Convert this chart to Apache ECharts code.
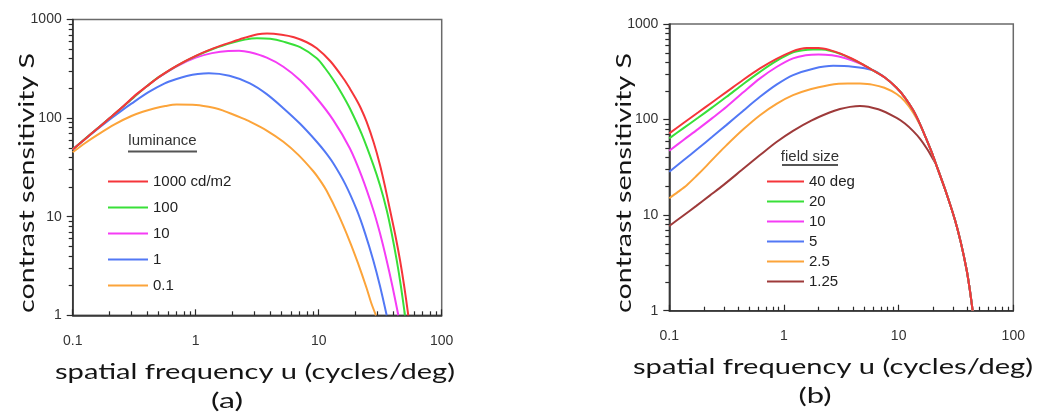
<!DOCTYPE html>
<html><head><meta charset="utf-8">
<script src="https://cdn.jsdelivr.net/npm/echarts@6/dist/echarts.min.js"></script>
<style>html,body{margin:0;padding:0;background:#fff}#c{width:1041px;height:413px}</style>
</head><body><div id="c"></div>
<script>
// ---------- data ----------
const xTickLabels = ['0.1', '1', '10', '100'];
const yTickLabels = ['1', '10', '100', '1000'];

// (a) luminance
const lumNames = ['1000 cd/m2', '100', '10', '1', '0.1'];
const lumU_1000 = [0.1,0.125,0.16,0.2,0.25,0.32,0.4,0.5,0.63,0.8,1,1.25,1.6,2,2.5,3.2,3.8,5,6.3,8,9.64,12.5,16,17.9,20,22,24.5,28,31.5,34.5,38,41.9,45.8,49.6,53.5];
const lumS_1000 = [48,60.8,78.9,100,127,169,210,260,314,372,428,484,543,596,653,708,720,701,661,588,510,375,249,200,158,126,92,56.5,33.5,20.6,11.7,6.57,3.64,1.96,1];
const lumU_100 = [0.1,0.141,0.2,0.2515,0.316,0.398,0.5,0.708,1,1.413,2,2.51,3.15,4.03,5.16,7.06,9.64,11.2,13.1,15.3,17.9,22.3,27.8,31.5,35.7,39.2,43.1,46.6,50.3];
const lumS_100 = [48,69.4,100,128,164,209,260,341,425,508,583,625,645,637,596,524,404,324,246,180,126,69.4,33.5,20.8,11.7,6.8,3.6,1.97,1];
const lumU_10 = [0.1,0.141,0.2,0.2515,0.316,0.398,0.5,0.708,1,1.357,1.84,2.25,2.76,3.78,5.16,7.06,9.64,13.1,17.9,22.3,27.8,31.5,35.7,39.8,44.4];
const lumS_10 = [48,69.4,100,128,164,209,258,337,410,456,480,482,465,410,332,242,159,95.9,49.4,25.9,11.7,6.78,3.6,1.96,1];
const lumU_1 = [0.1,0.141,0.2,0.245,0.3,0.41,0.56,0.689,0.846,1.04,1.28,1.88,2.76,3.78,5.16,7.06,9.64,11.2,13.1,16.4,20.4,23.8,27.8,31.5,35.7];
const lumS_1 = [48,68.7,97,117,140,182,225,248,267,280,285,269,225,175,126,87.5,57.6,45.9,35,21.5,11.7,6.82,3.6,1.98,1];
const lumU_01 = [0.1,0.1265,0.16,0.219,0.3,0.371,0.458,0.566,0.7,1.007,1.45,1.69,1.97,2.33,2.76,3.78,5.16,6.83,9.04,10.23,11.6,14.4,17.9,20.9,24.5,26.7,29.2];
const lumS_01 = [45,55.9,68,86.5,105,116,125,132.5,137,136,126,118.5,110,101,92,74.8,57.6,42.4,28.9,23.5,18.3,10.6,5.6,3.36,1.89,1.34,1];

// (b) field size — common high-frequency tail shared by all curves
const fsNames = ['40 deg', '20', '10', '5', '2.5', '1.25'];
const tailU = [5.9,7.53,9.6,11.34,13.4,15.5,17.9,19.6,21.4,25.7,31,34.8,39.2,41.6,44.2];
const tailS = [330,277,215,170,125,87.6,58,44.2,33,17.9,8.9,5.22,2.67,1.71,1];
const fsU_40 = [0.1,0.133,0.178,0.237,0.316,0.442,0.618,0.861,1.2,1.38,1.58,2.0,2.52,3.12,3.85,4.77];
const fsS_40 = [71.7,92.2,118.6,152,195,261,343,432,520,547,560,560,533,490,438,383];
const fsU_20 = [0.1,0.133,0.178,0.237,0.316,0.442,0.618,0.861,1.2,1.47,1.8,2.13,2.52,3.12,3.85,4.77];
const fsS_20 = [63.6,81.4,104.4,134,173,236,316,411,504,532,540,540,525,485,435,382];
const fsU_10 = [0.1,0.133,0.178,0.237,0.316,0.442,0.618,0.861,1.2,1.55,2,2.62,3.44,4.5];
const fsS_10 = [47.2,61.2,79.4,103.5,136,193,270,355,437,472,481,470,439,391];
const fsU_5 = [0.1,0.133,0.178,0.237,0.316,0.442,0.618,0.861,1.2,1.8,2.69,3.98];
const fsS_5 = [28.4,37.5,49.7,66,88,124,173,232,292,341,365,358];
const fsU_2_5 = [0.1,0.119,0.142,0.173,0.212,0.259,0.316,0.442,0.618,0.861,1.2,1.73,2.5,3.0,3.6,4.6,5.87,7.51,9.6,11.34,13.4,15.5];
const fsS_2_5 = [15,17.5,20.6,25.8,33,42.5,54,79,111,146,180,209,230,237,239,238,232,215,185,155,118,85.8];
const fsU_1_25 = [0.1,0.131,0.172,0.225,0.296,0.428,0.618,0.861,1.2,1.73,2.5,3.08,3.77,4.6,6.65,9.6,11.34,13.4,15.5,17.9,19.6];
const fsS_1_25 = [7.7,9.8,12.5,16,20.6,29.6,42.5,58.3,76.3,97.6,118.6,128.8,135.8,139,128,104,90.8,75.7,62.2,48.4,40];

// ---------- styles ----------
const lumColors = ['#f5353a', '#38e038', '#f53cf5', '#5278f5', '#fca43a'];
const fsColors = ['#f5353a', '#38e038', '#f53cf5', '#5278f5', '#fca43a', '#9e3a3a'];

const zip = (u, s) => u.map((v, i) => [v, s[i]]);
const withTail = (u, s) => {
  const pts = zip(u, s);
  const last = u[u.length - 1];
  zip(tailU, tailS).forEach(p => { if (p[0] > last) pts.push(p); });
  return pts;
};
const lumData = [zip(lumU_1000, lumS_1000), zip(lumU_100, lumS_100), zip(lumU_10, lumS_10), zip(lumU_1, lumS_1), zip(lumU_01, lumS_01)];
const fsData = [withTail(fsU_40, fsS_40), withTail(fsU_20, fsS_20), withTail(fsU_10, fsS_10), withTail(fsU_5, fsS_5), withTail(fsU_2_5, fsS_2_5), withTail(fsU_1_25, fsS_1_25)];

const tickFont = 'Liberation Sans';
const fmt = v => String(+(+v).toPrecision(6));

function xAxis(gi, margin) {
  return {
    type: 'log', logBase: 10, gridIndex: gi, min: 0.1, max: 100,
    axisLine: { lineStyle: { color: '#2a2a2a', width: 1.5 } },
    axisTick: { inside: true, length: 6, lineStyle: { color: '#2a2a2a', width: 1.2 } },
    minorTick: { show: true, splitNumber: 9, length: 4, lineStyle: { color: '#2a2a2a', width: 1.2 } },
    splitLine: { show: false },
    axisLabel: { fontFamily: tickFont, fontSize: 14, color: '#333', margin: margin,
      formatter: v => xTickLabels.includes(fmt(v)) ? fmt(v) : '' }
  };
}
function yAxis(gi) {
  return {
    type: 'log', logBase: 10, gridIndex: gi, min: 1, max: 1000,
    axisLine: { lineStyle: { color: '#2a2a2a', width: 1.5 } },
    axisTick: { inside: false, length: 6, lineStyle: { color: '#2a2a2a', width: 1.2 } },
    minorTick: { show: true, splitNumber: 9, length: 4, lineStyle: { color: '#2a2a2a', width: 1.2 } },
    splitLine: { show: false },
    axisLabel: { fontFamily: tickFont, fontSize: 14, color: '#333', margin: 11,
      formatter: v => yTickLabels.includes(fmt(v)) ? fmt(v) : '' }
  };
}

const series = [];
lumNames.forEach((n, i) => series.push({
  name: 'L:' + n, type: 'line', xAxisIndex: 0, yAxisIndex: 0, data: lumData[i],
  smooth: 0.3, showSymbol: false, symbol: 'none', clip: true,
  itemStyle: { color: lumColors[i] }, lineStyle: { color: lumColors[i], width: 2 }, z: 10 - i
}));
fsNames.forEach((n, i) => series.push({
  name: 'F:' + n, type: 'line', xAxisIndex: 1, yAxisIndex: 1, data: fsData[i],
  smooth: 0.3, showSymbol: false, symbol: 'none', clip: true,
  itemStyle: { color: fsColors[i] }, lineStyle: { color: fsColors[i], width: 2 }, z: 10 - i
}));

// text measuring for titles
const cv = document.createElement('canvas').getContext('2d');
function titleText(txt, cx, cy, targetW, rot) {
  const font = '22px Lato';
  cv.font = font;
  const w = cv.measureText(txt).width || targetW;
  return {
    type: 'text', x: cx, y: cy, rotation: rot || 0, scaleX: targetW / w, scaleY: 1,
    style: { text: txt, font: font, fill: '#151515', align: 'center', verticalAlign: 'middle' }
  };
}

const legendCommon = {
  orient: 'vertical', icon: 'rect', itemHeight: 2, padding: 0, selectedMode: false,
  itemStyle: { borderWidth: 0 },
  textStyle: { fontFamily: tickFont, fontSize: 15, color: '#222' },
  formatter: n => n.slice(2)
};

const option = {
  backgroundColor: '#fff',
  animation: false,
  grid: [
    { left: 72.7, top: 19.5, width: 369, height: 295.8, show: true, borderColor: '#6a6a6a', borderWidth: 1.5 },
    { left: 669.3, top: 24, width: 344, height: 286.7, show: true, borderColor: '#6a6a6a', borderWidth: 1.5 }
  ],
  xAxis: [xAxis(0, 19), xAxis(1, 18)],
  yAxis: [yAxis(0), yAxis(1)],
  legend: [
    Object.assign({}, legendCommon, { left: 108, top: 174, itemWidth: 40, itemGap: 11, data: lumNames.map(n => 'L:' + n) }),
    Object.assign({}, legendCommon, { left: 767, top: 174, itemWidth: 37, itemGap: 5, data: fsNames.map(n => 'F:' + n) })
  ],
  graphic: [
    { type: 'text', x: 162.5, y: 141, style: { text: 'luminance', font: '15px "Liberation Sans"', fill: '#333', align: 'center', verticalAlign: 'middle' } },
    { type: 'line', shape: { x1: 128, y1: 151.5, x2: 197, y2: 151.5 }, style: { stroke: '#555', lineWidth: 2 } },
    { type: 'text', x: 810, y: 157, style: { text: 'field size', font: '15px "Liberation Sans"', fill: '#333', align: 'center', verticalAlign: 'middle' } },
    { type: 'line', shape: { x1: 782, y1: 165, x2: 838, y2: 165 }, style: { stroke: '#555', lineWidth: 2 } },
    titleText('contrast sensitivity S', 27, 183, 260, Math.PI / 2),
    titleText('contrast sensitivity S', 624, 183, 260, Math.PI / 2),
    titleText('spatial frequency u (cycles/deg)', 255, 372, 400),
    titleText('spatial frequency u (cycles/deg)', 833, 367, 400),
    titleText('(a)', 227, 401, 32),
    titleText('(b)', 815, 396, 33)
  ],
  series: series
};

const chart = echarts.init(document.getElementById('c'), null, { renderer: 'canvas' });
chart.setOption(option);
</script>
</body></html>
